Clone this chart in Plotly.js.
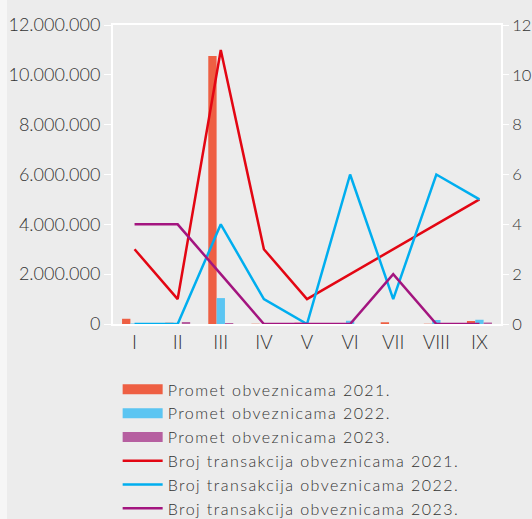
<!DOCTYPE html>
<html>
<head>
<meta charset="utf-8">
<script src="https://cdn.plot.ly/plotly-3.0.1.min.js"></script>
<style>html,body{margin:0;padding:0;background:#ececec;}#chart{width:532px;height:519px;}
.legendtext{letter-spacing:1.45px;}</style>
</head>
<body>
<div id="chart"></div>
<script>
var categories = ["I","II","III","IV","V","VI","VII","VIII","IX"];
var promet2021 = [210000, 50000, 10760000, 10000, 50000, 0, 70000, 10000, 120000];
var promet2022 = [20000, 0, 1040000, 0, 0, 130000, 0, 160000, 170000];
var promet2023 = [20000, 80000, 40000, 0, 0, 0, 0, 0, 60000];
var broj2021 = [3, 1, 11, 3, 1, 2, 3, 4, 5];
var broj2022 = [0, 0, 4, 1, 0, 6, 1, 6, 5];
var broj2023 = [4, 4, 2, 0, 0, 0, 2, 0, 0];
var barNames = ['Promet obveznicama 2021.', 'Promet obveznicama 2022.', 'Promet obveznicama 2023.'];
var lineNames = ['Broj transakcija obveznicama 2021.', 'Broj transakcija obveznicama 2022.', 'Broj transakcija obveznicama 2023.'];
var barColors = ['#ee5f43', '#5bc5f2', '#b65fa0'];
var lineColors = ['#e30613', '#00aeef', '#a3157f'];

var barSeries = [promet2021, promet2022, promet2023];
var lineSeries = [broj2021, broj2022, broj2023];
var traces = [];
// legend-only keys drawn as wide rectangles (like the reference legend)
barSeries.forEach(function(s, i){
  traces.push({type:'scatter', mode:'lines', name:barNames[i], x:[null], y:[null], line:{color:barColors[i], width:12}, hoverinfo:'skip', legendrank:i+1});
});
barSeries.forEach(function(s, i){
  traces.push({type:'bar', name:barNames[i], x:categories, y:s, marker:{color:barColors[i]}, showlegend:false});
});
lineSeries.forEach(function(s, i){
  traces.push({type:'scatter', mode:'lines', name:lineNames[i], x:categories, y:s, yaxis:'y2', line:{color:lineColors[i], width:2.5}, legendrank:i+4});
});

var layout = {
  width:532, height:519,
  margin:{l:113, r:31, t:25, b:195, autoexpand:false},
  paper_bgcolor:'#ececec', plot_bgcolor:'#ececec',
  separators:',.',
  font:{family:'Lato, "Open Sans", sans-serif', weight:300, color:'#333333', size:18},
  barmode:'group', bargap:0.42, bargroupgap:0,
  showlegend:true,
  legend:{x:0.012, y:-0.162, xanchor:'left', yanchor:'top', bgcolor:'rgba(0,0,0,0)', font:{size:16, color:'#333333', weight:300}, itemwidth:40, traceorder:'normal', tracegroupgap:0},
  xaxis:{type:'category', showline:true, linecolor:'#ffffff', linewidth:2, mirror:true, showgrid:false, ticks:'', tickfont:{size:19}, zeroline:false},
  yaxis:{range:[0,12000000], tickvals:[0,2000000,4000000,6000000,8000000,10000000,12000000], tickformat:',d', showline:true, linecolor:'#ffffff', linewidth:2, ticks:'outside', tickcolor:'#ffffff', ticklen:7, showgrid:false, zeroline:false, tickfont:{size:18}},
  yaxis2:{overlaying:'y', side:'right', range:[0,12], tickvals:[0,2,4,6,8,10,12], showline:true, linecolor:'#ffffff', linewidth:2, ticks:'outside', tickcolor:'#ffffff', ticklen:6, showgrid:false, zeroline:false, tickfont:{size:16.5}},
  shapes:[{type:'rect', xref:'paper', yref:'paper', x0:-0.2912, x1:-0.2732, y0:-0.652, y1:1.084, line:{width:0}, fillcolor:'#f6f6f6', layer:'below'}]
};

Plotly.newPlot('chart', traces, layout, {displayModeBar:false, staticPlot:true});
</script>
</body>
</html>
